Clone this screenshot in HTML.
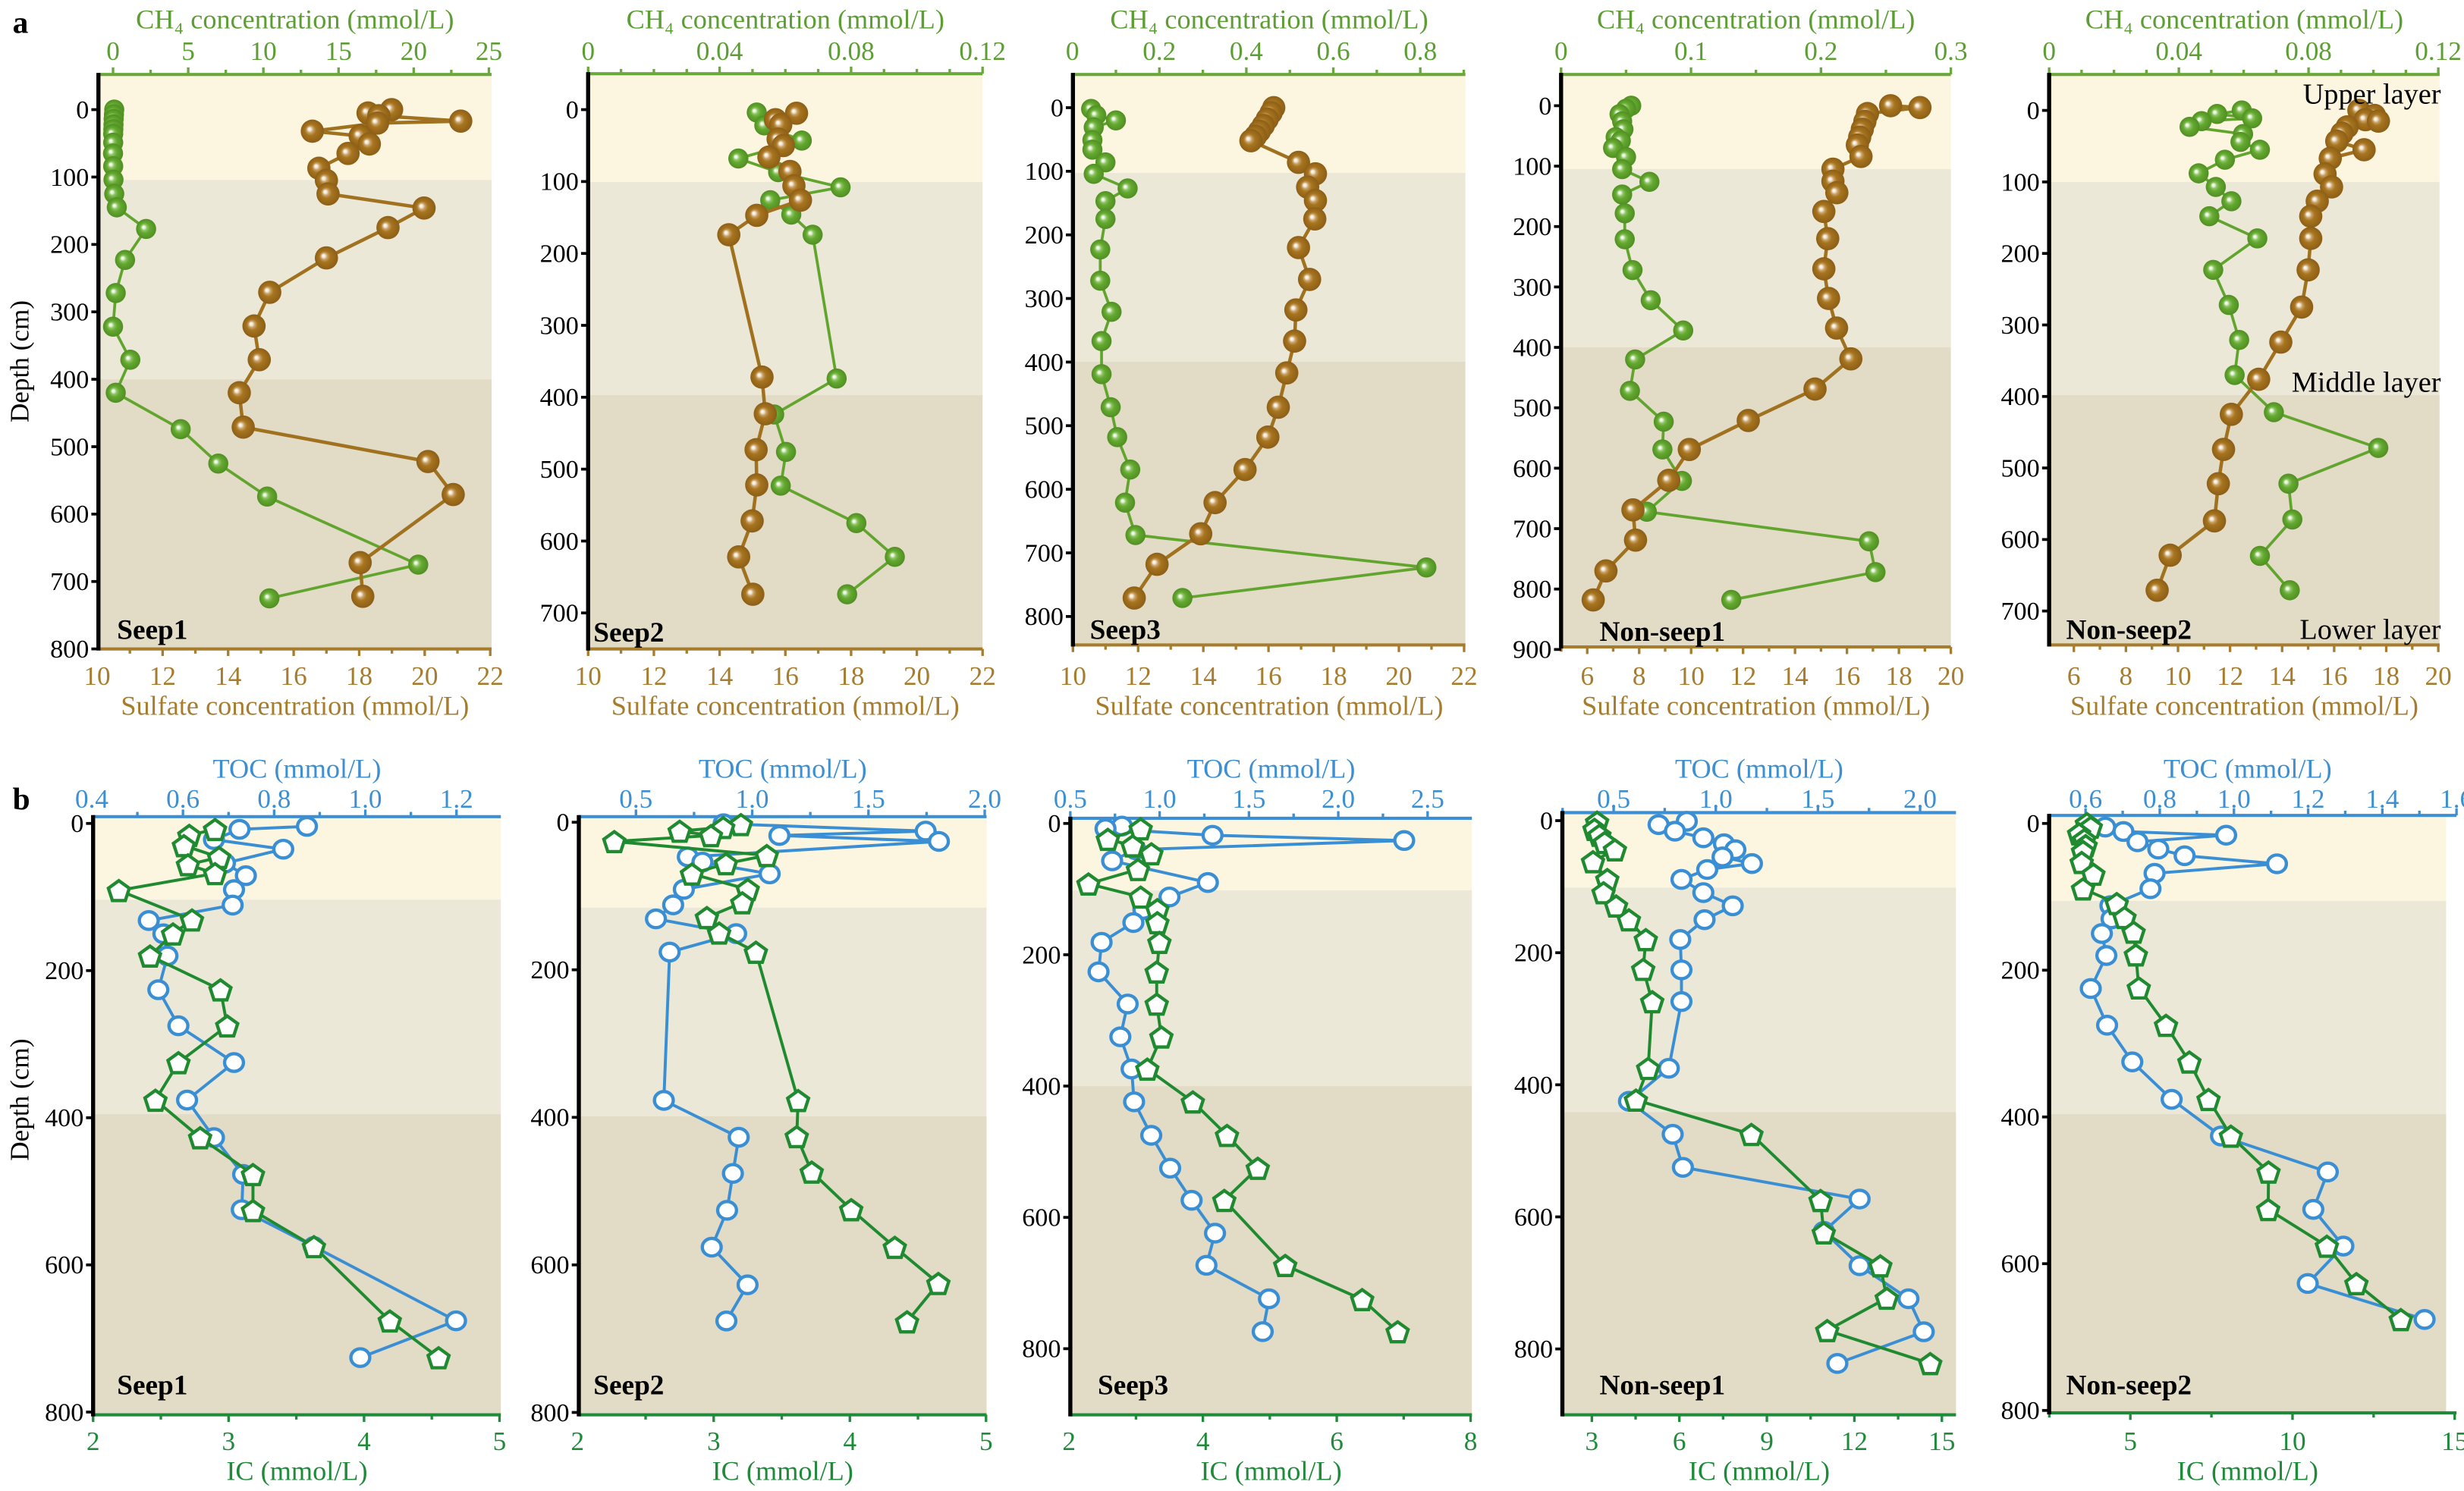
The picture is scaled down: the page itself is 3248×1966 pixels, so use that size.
<!DOCTYPE html>
<html><head><meta charset="utf-8">
<style>
html,body{margin:0;padding:0;background:#fff;}
svg{display:block;font-family:"Liberation Serif",serif;}
svg text{font-family:"Liberation Serif",serif;}
</style></head>
<body>
<svg id="fig" width="3248" height="1966" viewBox="0 0 1568 949" xmlns="http://www.w3.org/2000/svg">
<defs>
<radialGradient id="gBrown" cx="0.5" cy="0.5" r="0.5" fx="0.36" fy="0.4">
<stop offset="0%" stop-color="#ffffff"/><stop offset="14%" stop-color="#f1e6d2"/><stop offset="28%" stop-color="#c9a066"/><stop offset="48%" stop-color="#a7751f"/><stop offset="100%" stop-color="#8c5e16"/>
</radialGradient>
<radialGradient id="gGreen" cx="0.5" cy="0.5" r="0.5" fx="0.36" fy="0.4">
<stop offset="0%" stop-color="#ffffff"/><stop offset="14%" stop-color="#e4f2d8"/><stop offset="30%" stop-color="#8cc462"/><stop offset="52%" stop-color="#64a830"/><stop offset="100%" stop-color="#4f8f22"/>
</radialGradient>
</defs>
<text x="8" y="21" font-size="20" font-weight="bold" font-family="Liberation Serif, serif">a</text>
<text x="8" y="515" font-size="20" font-weight="bold" font-family="Liberation Serif, serif">b</text>
<text transform="translate(18,230) rotate(-90)" text-anchor="middle" font-size="17" font-family="Liberation Serif, serif">Depth (cm)</text>
<text transform="translate(18,700) rotate(-90)" text-anchor="middle" font-size="17" font-family="Liberation Serif, serif">Depth (cm)</text>
</svg>
<script>
// ---------- data ----------
const a1SO4Depth=[0,5,9,17,20,32,39,51,65,87,105,125,146,175,220,271,321,371,420,471,522,571,672,722];
const a1SO4=[18.99,18.27,18.6,21.1,18.56,16.57,18.03,18.31,17.66,16.77,17.0,17.05,19.98,18.88,17.0,15.27,14.79,14.95,14.34,14.46,20.1,20.87,18.03,18.11];
const a1CH4Depth=[0,7,14,22,29,36,49,65,84,104,125,145,177,223,272,322,371,420,474,525,574,675,725];
const a1CH4=[0.08,0.06,0.04,0.03,0.02,0.01,0.01,0.0,0.01,0.03,0.08,0.25,2.2,0.8,0.18,0.0,1.15,0.18,4.5,7.0,10.25,20.3,10.4];

const a2SO4Depth=[5,14,21,41,50,66,86,106,126,147,174,372,423,473,522,572,622,674];
const a2SO4=[16.34,15.7,15.86,15.78,15.94,15.5,16.14,16.26,16.46,15.13,14.28,15.29,15.39,15.11,15.13,14.99,14.58,15.01];
const a2CH4Depth=[4,22,43,68,87,108,126,146,174,374,424,476,523,575,622,674];
const a2CH4=[0.0513,0.0536,0.065,0.0457,0.0578,0.0768,0.0554,0.0618,0.0683,0.0756,0.0566,0.0602,0.0586,0.0816,0.0933,0.0788];

const a3SO4Depth=[0,8,18,28,37,45,52,86,104,125,146,175,220,270,318,367,417,471,518,569,621,670,718,771];
const a3SO4=[16.16,16.08,15.96,15.84,15.72,15.6,15.46,16.92,17.44,17.2,17.44,17.42,16.92,17.26,16.84,16.8,16.56,16.3,15.98,15.28,14.36,13.92,12.58,11.88];
const a3CH4Depth=[2,12,20,31,51,66,86,104,127,147,175,223,272,321,367,419,471,518,569,621,672,723,771];
const a3CH4=[0.043,0.055,0.1,0.049,0.046,0.046,0.076,0.049,0.127,0.076,0.076,0.064,0.064,0.09,0.067,0.067,0.088,0.103,0.133,0.121,0.145,0.814,0.253];

const a4SO4Depth=[0,3,13,26,39,52,65,84,105,125,144,175,220,270,319,368,419,469,521,569,620,669,719,770,818];
const a4SO4=[17.68,18.81,16.79,16.69,16.59,16.49,16.4,16.54,15.46,15.46,15.61,15.11,15.26,15.11,15.29,15.6,16.15,14.77,12.2,9.93,9.14,7.76,7.86,6.72,6.23];
const a4CH4Depth=[0,5,14,26,39,52,58,70,85,105,126,147,178,221,272,322,372,420,472,523,569,621,672,721,772,818];
const a4CH4=[0.054,0.05,0.045,0.047,0.048,0.042,0.046,0.04,0.05,0.047,0.068,0.047,0.049,0.049,0.055,0.069,0.094,0.057,0.053,0.079,0.078,0.093,0.066,0.237,0.242,0.131];

const a5SO4Depth=[0,7,13,15,23,32,43,55,67,89,107,127,148,179,223,275,324,376,425,474,522,574,622,671];
const a5SO4=[16.95,17.55,17.2,17.7,16.5,16.3,16.1,17.15,15.85,15.65,15.9,15.35,15.1,15.1,15.0,14.75,13.95,13.1,12.05,11.75,11.55,11.4,9.7,9.2];
const a5CH4Depth=[0,5,11,15,23,33,44,55,69,88,107,127,148,179,223,272,321,370,422,472,522,572,623,671];
const a5CH4=[0.0594,0.0518,0.0626,0.047,0.0433,0.0598,0.059,0.065,0.0542,0.0461,0.0514,0.0562,0.0494,0.0642,0.0506,0.0554,0.0586,0.0572,0.0693,0.1015,0.0738,0.075,0.065,0.0742];

const b1TOCDepth=[4,8,22,35,54,71,90,111,132,150,180,226,275,325,376,427,477,525,575,676,726];
const b1TOC=[0.872,0.724,0.668,0.82,0.692,0.738,0.712,0.709,0.525,0.557,0.566,0.546,0.59,0.712,0.609,0.668,0.732,0.729,0.887,1.199,0.989];
const b1ICDepth=[8,16,30,46,56,68,91,131,150,180,226,275,325,376,427,477,526,575,676,726];
const b1IC=[2.90,2.71,2.67,2.93,2.70,2.90,2.19,2.73,2.59,2.42,2.94,2.99,2.63,2.46,2.79,3.18,3.18,3.63,4.19,4.55];

const b2TOCDepth=[2,12,18,26,47,54,70,91,112,131,151,176,377,427,476,526,576,627,676];
const b2TOC=[0.877,1.746,1.117,1.803,0.723,0.786,1.075,0.706,0.66,0.586,0.931,0.645,0.62,0.942,0.917,0.892,0.826,0.98,0.889];
const b2ICDepth=[3,7,12,18,26,45,56,70,91,109,129,150,176,377,426,474,525,576,625,677];
const b2IC=[3.20,3.07,2.75,2.98,2.27,3.39,3.09,2.84,3.25,3.21,2.95,3.04,3.31,3.62,3.61,3.72,4.01,4.33,4.65,4.42];

const b3TOCDepth=[4,8,18,26,40,57,90,112,131,151,181,226,275,325,374,424,475,525,574,624,673,724,774];
const b3TOC=[0.789,0.697,1.296,2.369,0.865,0.734,1.27,1.055,0.909,0.853,0.675,0.658,0.821,0.78,0.843,0.857,0.953,1.059,1.179,1.31,1.262,1.612,1.577];
const b3ICDepth=[8,24,34,46,70,92,112,131,151,181,226,275,325,374,424,475,525,574,673,725,774];
const b3IC=[3.07,2.58,2.95,3.23,3.03,2.29,3.07,3.32,3.32,3.35,3.31,3.31,3.38,3.17,3.85,4.36,4.82,4.32,5.23,6.38,6.91];

const b4TOCDepth=[1,6,16,26,35,44,55,65,74,89,109,129,150,180,226,274,375,425,475,525,573,622,674,724,774,822];
const b4TOC=[0.858,0.72,0.80,0.939,1.04,1.096,1.033,1.177,0.958,0.832,0.939,1.083,0.945,0.826,0.832,0.832,0.77,0.575,0.789,0.839,1.704,1.529,1.704,1.943,2.018,1.595];
const b4ICDepth=[2,13,22,33,44,62,89,109,129,150,180,225,274,375,423,475,575,624,674,723,772,822];
const b4IC=[3.18,3.09,3.26,3.44,3.79,3.04,3.53,3.40,3.83,4.27,4.85,4.76,5.07,4.93,4.51,8.47,10.84,10.95,12.89,13.11,11.07,14.6];

const b5TOCDepth=[5,11,16,25,35,44,55,68,89,112,130,150,180,225,275,325,376,426,475,526,576,627,676];
const b5TOC=[0.653,0.702,0.979,0.74,0.796,0.867,1.116,0.786,0.775,0.667,0.67,0.644,0.656,0.614,0.658,0.726,0.832,0.965,1.253,1.214,1.295,1.199,1.514];
const b5ICDepth=[0,5,14,22,30,38,53,69,89,109,128,148,179,224,275,325,376,426,475,526,576,627,676];
const b5IC=[3.66,3.78,3.42,3.58,3.62,3.54,3.50,3.86,3.54,4.58,4.82,5.10,5.17,5.26,6.10,6.82,7.41,8.10,9.26,9.25,11.06,11.97,13.34];

// tick label arrays
const a1TopTicks=[0,5,10,15,20,25];
const a2TopTicks=[0,0.04,0.08,0.12];
const a3TopTicks=[0,0.2,0.4,0.6,0.8];
const a4TopTicks=[0,0.1,0.2,0.3];
const a5TopTicks=[0,0.04,0.08,0.12];
const aBotTicks1=[10,12,14,16,18,20,22];
const aBotTicks2=[6,8,10,12,14,16,18,20];
const b1TopTicks=[0.4,0.6,0.8,1.0,1.2];
const b2TopTicks=[0.5,1.0,1.5,2.0];
const b3TopTicks=[0.5,1.0,1.5,2.0,2.5];
const b4TopTicks=[0.5,1.0,1.5,2.0];
const b5TopTicks=[0.6,0.8,1.0,1.2,1.4,1.6];
const b1BotTicks=[2,3,4,5];
const b2BotTicks=[2,3,4,5];
const b3BotTicks=[2,4,6,8];
const b4BotTicks=[3,6,9,12,15];
const b5BotTicks=[5,10,15];
const depthTicks8=[0,100,200,300,400,500,600,700,800];
const depthTicks7=[0,100,200,300,400,500,600,700];
const depthTicks9=[0,100,200,300,400,500,600,700,800,900];
const depthTicksB=[0,200,400,600,800];

// ---------- layout ----------
const NS='http://www.w3.org/2000/svg';
const svg=document.getElementById('fig');
const FF='Liberation Serif, serif';
function mk(tag,attrs,parent){const e=document.createElementNS(NS,tag);for(const k in attrs)e.setAttribute(k,attrs[k]);(parent||svg).appendChild(e);return e;}

const C={aTop:'#6aa83c',aTopTxt:'#5c9e34',aBot:'#a67c2e',bTop:'#3d8fd1',bBot:'#1f8a3a',
 brownLine:'#a0721f',greenLine:'#62a52e',blue:'#3a8fd4',pent:'#1f8a30',
 upper:'#fcf6e0',middle:'#ece8d8',lower:'#e2dbc5'};

const panels=[
 {id:'a1',row:'a',cx:55.03,cy:29.93,fx:5.916,fy:4.02,l:45,r:1525,t:70,b:1540,u:340,m:850,d0:160,dk:1.725,
  top:{v0:0,z0:100,v1:25,z1:1515,minor:2.5,labels:a1TopTicks,dec:-1},bot:{v0:10,z0:40,v1:22,z1:1520,minor:1,labels:aBotTicks1,dec:-1},
  depth:depthTicks8,name:'Seep1',nz:115,ny:1490,
  series:[{d:a1CH4Depth,v:a1CH4,ax:'top',k:'green'},{d:a1SO4Depth,v:a1SO4,ax:'bot',k:'brown'}]},
 {id:'a2',row:'a',cx:364.97,cy:29.93,fx:5.916,fy:4.02,l:55,r:1540,t:68,b:1540,u:345,m:890,d0:160,dk:1.84,
  top:{v0:0,z0:55,v1:0.12,z1:1540,minor:0.01,labels:a2TopTicks,dec:-1},bot:{v0:10,z0:55,v1:22,z1:1540,minor:1,labels:aBotTicks1,dec:-1},
  depth:depthTicks7,name:'Seep2',nz:75,ny:1497,
  series:[{d:a2CH4Depth,v:a2CH4,ax:'top',k:'green'},{d:a2SO4Depth,v:a2SO4,ax:'bot',k:'brown'}]},
 {id:'a3',row:'a',cx:677.8,cy:29.93,fx:6.026,fy:4.02,l:30,r:1535,t:70,b:1530,u:322,m:805,d0:155,dk:1.6275,
  top:{v0:0,z0:28,v1:0.8,z1:1362,minor:0.1,labels:a3TopTicks,dec:-1},bot:{v0:10,z0:30,v1:22,z1:1530,minor:1,labels:aBotTicks1,dec:-1},
  depth:depthTicks8,name:'Seep3',nz:95,ny:1490,
  series:[{d:a3CH4Depth,v:a3CH4,ax:'top',k:'green'},{d:a3SO4Depth,v:a3SO4,ax:'bot',k:'brown'}]},
 {id:'a4',row:'a',cx:990.15,cy:29.93,fx:6.128,fy:4.02,l:20,r:1540,t:70,b:1535,u:312,m:768,d0:150,dk:1.546,
  top:{v0:0,z0:20,v1:0.3,z1:1540,minor:0.05,labels:a4TopTicks,dec:-1},bot:{v0:6,z0:122,v1:20,z1:1540,minor:1,labels:aBotTicks2,dec:-1},
  depth:depthTicks9,name:'Non-seep1',nz:170,ny:1495,
  series:[{d:a4CH4Depth,v:a4CH4,ax:'top',k:'green'},{d:a4SO4Depth,v:a4SO4,ax:'bot',k:'brown'}]},
 {id:'a5',row:'a',cx:1298.2,cy:29.93,fx:6.037,fy:4.02,l:35,r:1535,t:70,b:1530,u:345,m:890,d0:162,dk:1.83,
  top:{v0:0,z0:35,v1:0.12,z1:1530,minor:0.01,labels:a5TopTicks,dec:-1},bot:{v0:5,z0:30,v1:20,z1:1530,minor:1,labels:aBotTicks2,dec:-1},
  depth:depthTicks7,name:'Non-seep2',nz:100,ny:1490,
  series:[{d:a5CH4Depth,v:a5CH4,ax:'top',k:'green'},{d:a5SO4Depth,v:a5SO4,ax:'bot',k:'brown'}]},
 {id:'b1',row:'b',cx:55.03,cy:504.97,fx:5.916,fy:3.918,l:25,r:1560,t:58,b:1550,u:265,m:800,d0:75,dk:1.835,
  top:{v0:0.4,z0:20,v1:1.2,z1:1393,minor:0.1,labels:b1TopTicks,dec:1},bot:{v0:2,z0:25,v1:5,z1:1555,minor:0.5,labels:b1BotTicks,dec:-1},
  depth:depthTicksB,name:'Seep1',nz:115,ny:1475,
  series:[{d:b1TOCDepth,v:b1TOC,ax:'top',k:'circle'},{d:b1ICDepth,v:b1IC,ax:'bot',k:'pent'}]},
 {id:'b2',row:'b',cx:364.97,cy:504.97,fx:5.916,fy:3.918,l:20,r:1555,t:58,b:1550,u:285,m:805,d0:72,dk:1.84,
  top:{v0:0.5,z0:235,v1:2.0,z1:1548,minor:0.25,labels:b2TopTicks,dec:1},bot:{v0:2,z0:15,v1:5,z1:1553,minor:0.5,labels:b2BotTicks,dec:-1},
  depth:depthTicksB,name:'Seep2',nz:75,ny:1475,
  series:[{d:b2TOCDepth,v:b2TOC,ax:'top',k:'circle'},{d:b2ICDepth,v:b2IC,ax:'bot',k:'pent'}]},
 {id:'b3',row:'b',cx:677.8,cy:504.97,fx:6.026,fy:3.918,l:20,r:1560,t:62,b:1550,u:242,m:730,d0:75,dk:1.6375,
  top:{v0:0.5,z0:20,v1:2.5,z1:1390,minor:0.25,labels:b3TopTicks,dec:1},bot:{v0:2,z0:15,v1:8,z1:1555,minor:1,labels:b3BotTicks,dec:-1},
  depth:depthTicksB,name:'Seep3',nz:125,ny:1475,
  series:[{d:b3TOCDepth,v:b3TOC,ax:'top',k:'circle'},{d:b3ICDepth,v:b3IC,ax:'bot',k:'pent'}]},
 {id:'b4',row:'b',cx:990.15,cy:504.97,fx:6.128,fy:3.918,l:25,r:1560,t:48,b:1550,u:235,m:795,d0:68,dk:1.647,
  top:{v0:0.5,z0:225,v1:2.0,z1:1420,minor:0.25,labels:b4TopTicks,dec:1},bot:{v0:3,z0:140,v1:15,z1:1505,minor:1.5,labels:b4BotTicks,dec:-1},
  depth:depthTicksB,name:'Non-seep1',nz:170,ny:1475,
  series:[{d:b4TOCDepth,v:b4TOC,ax:'top',k:'circle'},{d:b4ICDepth,v:b4IC,ax:'bot',k:'pent'}]},
 {id:'b5',row:'b',cx:1298.2,cy:504.97,fx:6.037,fy:3.918,l:35,r:1560,t:55,b:1545,u:268,m:800,d0:75,dk:1.83,
  top:{v0:0.6,z0:175,v1:1.4,z1:1315,minor:0.1,labels:b5TopTicks,ext:1600,dec:1},bot:{v0:5,z0:347,v1:10,z1:970,minor:2.5,labels:b5BotTicks,ext:1600,dec:-1},
  depth:depthTicksB,name:'Non-seep2',nz:100,ny:1475,
  series:[{d:b5TOCDepth,v:b5TOC,ax:'top',k:'circle'},{d:b5ICDepth,v:b5IC,ax:'bot',k:'pent'}]}
];

function X(p,z){return p.cx+z/p.fx;}
function Yz(p,z){return p.cy+z/p.fy;}
function valZ(ax,v){return ax.z0+(v-ax.z0*0+0-ax.v0)*(ax.z1-ax.z0)/(ax.v1-ax.v0);}
function xScale(p,ax,v){return X(p,valZ(ax,v));}
function yScale(p,d){return Yz(p,p.d0+d*p.dk);}
function zVal(ax,z){return ax.v0+(z-ax.z0)*(ax.v1-ax.v0)/(ax.z1-ax.z0);}
function fmt(v,dec){return dec>=0?v.toFixed(dec):String(v);}

panels.forEach(p=>{
 const g=mk('g',{});
 
 
 const L=X(p,p.l),R=X(p,p.r),T=Yz(p,p.t),B=Yz(p,p.b),U=Yz(p,p.u),M=Yz(p,p.m);
 let r1=mk('rect',{x:L,y:T,width:R-L,height:U-T,fill:C.upper},g);
 
 
 let r2=mk('rect',{x:L,y:U,width:R-L,height:M-U,fill:C.middle},g);
 
 
 let r3=mk('rect',{x:L,y:M,width:R-L,height:B-M,fill:C.lower},g);
 
 

 const isA=p.row==='a';
 const topCol=isA?C.aTop:C.bTop, topTxt=isA?C.aTopTxt:C.bTop, botCol=isA?C.aBot:C.bBot;
 function drawAx(ax,which){
  const y=which==='top'?T:B, col=which==='top'?topCol:botCol, tcol=which==='top'?topTxt:botCol;
  const rz=Math.max(p.r,ax.ext||0);
  const line=mk('line',{x1:L,y1:y,x2:X(p,rz),y2:y,stroke:col,'stroke-width':2},g);
  
  
  const vL=zVal(ax,p.l), vR=zVal(ax,rz);
  const start=Math.ceil((vL-1e-9)/ax.minor)*ax.minor;
  for(let v=start; v<=vR+1e-9; v+=ax.minor){
   const isMaj=ax.labels.some(l=>Math.abs(l-v)<1e-6);
   const x=xScale(p,ax,v), len=isMaj?4.5:3;
   const tk=mk('line',{x1:x,y1:y,x2:x,y2:which==='top'?y-len:y+len,stroke:col,'stroke-width':1.6},g);
   
   
  }
  ax.labels.forEach(v=>{
   const t=mk('text',{x:xScale(p,ax,v),y:which==='top'?(isA?38:514):(isA?436:923),'text-anchor':'middle','font-size':17,fill:tcol,'font-family':FF},g);
   t.textContent=fmt(v,ax.dec);
   
   
  });
  const cxm=(L+R)/2;
  const title=mk('text',{x:cxm,y:which==='top'?(isA?18:495):(isA?455:942),'text-anchor':'middle','font-size':17.5,fill:tcol,'font-family':FF},g);
  title.textContent= which==='top' ? (isA?'CH\u2084 concentration (mmol/L)':'TOC (mmol/L)') : (isA?'Sulfate concentration (mmol/L)':'IC (mmol/L)');
  
  
 }
 drawAx(p.top,'top');
 drawAx(p.bot,'bot');
 const la=mk('line',{x1:L,y1:T-1,x2:L,y2:B+1,stroke:'#000','stroke-width':2.6},g);
 
 
 p.depth.forEach(d=>{
  const y=yScale(p,d);
  const tk=mk('line',{x1:L-4.5,y1:y,x2:L,y2:y,stroke:'#000','stroke-width':1.8},g);
  
  
  const t=mk('text',{x:L-6,y:y+5.5,'text-anchor':'end','font-size':16.5,fill:'#000','font-family':FF},g);
  t.textContent=String(d);
  
  
 });
 p.series.forEach(s=>{
  const ax=s.ax==='top'?p.top:p.bot;
  const pts=s.d.map((d,i)=>[xScale(p,ax,s.v[i]),yScale(p,d)]);
  let lc,lw;
  if(s.k==='brown'){lc=C.brownLine;lw=2.2;} else if(s.k==='green'){lc=C.greenLine;lw=1.8;}
  else if(s.k==='circle'){lc=C.blue;lw=1.9;} else {lc=C.pent;lw=1.9;}
  const pl=mk('polyline',{points:pts.map(q=>q[0].toFixed(2)+','+q[1].toFixed(2)).join(' '),fill:'none',stroke:lc,'stroke-width':lw,'stroke-linejoin':'round'},g);
  
  
  pts.forEach(q=>{
   let m;
   if(s.k==='brown'){
    m=mk('circle',{cx:q[0],cy:q[1],r:7.4,fill:'url(#gBrown)'},g);
    
   } else if(s.k==='green'){
    m=mk('circle',{cx:q[0],cy:q[1],r:6.4,fill:'url(#gGreen)'},g);
    
   } else if(s.k==='circle'){
    m=mk('ellipse',{cx:q[0],cy:q[1],rx:6,ry:5.6,fill:'#fff',stroke:C.blue,'stroke-width':2.1},g);
    
   } else {
    const r=7,pp=[];
    for(let k=0;k<5;k++){const a=-Math.PI/2+k*2*Math.PI/5;pp.push((q[0]+r*Math.cos(a)).toFixed(2)+','+(q[1]+r*Math.sin(a)+0.8).toFixed(2));}
    m=mk('polygon',{points:pp.join(' '),fill:'#fff',stroke:C.pent,'stroke-width':2.1,'stroke-linejoin':'miter'},g);
    
   }
   
  });
 });
 const nl=mk('text',{x:X(p,p.nz),y:Yz(p,p.ny)+6,'font-size':18,'font-weight':'bold',fill:'#000','font-family':FF},g);
 nl.textContent=p.name;
 
 
 if(p.id==='a5'){
  [['Upper layer',120,'upper-layer-label'],['Middle layer',858,'middle-layer-label'],['Lower layer',1490,'lower-layer-label']].forEach(a=>{
   const t=mk('text',{x:X(p,1540),y:Yz(p,a[1])+6,'text-anchor':'end','font-size':18.5,fill:'#000','font-family':FF},g);
   t.textContent=a[0];
   
   
  });
 }
});
</script>
</body></html>
